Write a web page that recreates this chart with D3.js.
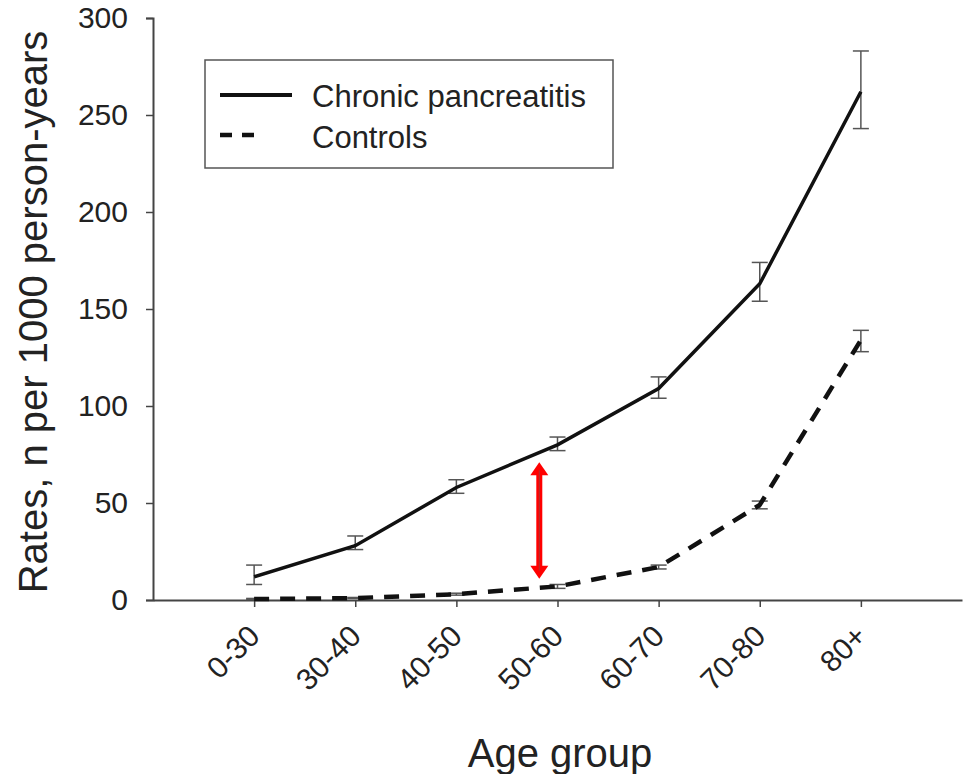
<!DOCTYPE html>
<html>
<head>
<meta charset="utf-8">
<script src="https://cdnjs.cloudflare.com/ajax/libs/d3/7.8.5/d3.min.js"></script>
<style>
  body { margin: 0; background: #fff; }
  text { font-family: "Liberation Sans", Arial, sans-serif; fill: #222; }
</style>
</head>
<body>
<div id="chart"></div>
<script>
var ageGroups = ["0-30", "30-40", "40-50", "50-60", "60-70", "70-80", "80+"];
var cpRates = [12, 28, 58, 80, 109, 163, 262];
var cpLow = [8, 26, 55, 77, 104, 154, 243];
var cpHigh = [18, 33, 62, 84, 115, 174, 283];
var ctrlRates = [0.5, 1, 3, 7, 17, 49, 134];
var ctrlLow = [0.3, 0.8, 2.5, 6, 16, 47, 128];
var ctrlHigh = [0.8, 1.3, 3.5, 8, 18, 51, 139];
var yTicks = [0, 50, 100, 150, 200, 250, 300];
// gap annotation: position along x (category index) and y range
var gapArrow = { at: 2.82, from: 11, to: 71 };

var width = 966, height = 774;
var svg = d3.select("#chart").append("svg")
  .attr("width", width)
  .attr("height", height);

var x = d3.scaleLinear().domain([-1, ageGroups.length]).range([153, 962]);
var y = d3.scaleLinear().domain([0, 300]).range([600, 18]);

// y axis
var yAxis = svg.append("g")
  .attr("transform", "translate(153,0)")
  .call(d3.axisLeft(y).tickValues(yTicks).tickSize(7).tickPadding(18));
yAxis.select(".domain").attr("stroke", "#444").attr("stroke-width", 2);
yAxis.selectAll(".tick line").attr("stroke", "#444").attr("stroke-width", 1.5);
yAxis.selectAll(".tick text")
  .style("font-size", "30px")
  .style("font-family", "Liberation Sans, Arial, sans-serif")
  .attr("fill", "#222");

// x axis
var xAxis = svg.append("g")
  .attr("transform", "translate(0,600)")
  .call(d3.axisBottom(x)
    .tickValues(d3.range(ageGroups.length))
    .tickFormat(function (i) { return ageGroups[i]; })
    .tickSize(7)
    .tickSizeOuter(0));
xAxis.select(".domain").attr("stroke", "#444").attr("stroke-width", 2);
xAxis.selectAll(".tick line").attr("stroke", "#444").attr("stroke-width", 1.5);
xAxis.selectAll(".tick text")
  .style("font-size", "30px")
  .style("font-family", "Liberation Sans, Arial, sans-serif")
  .attr("fill", "#222")
  .attr("text-anchor", "end")
  .attr("x", 0)
  .attr("y", 0)
  .attr("dy", 0)
  .attr("transform", "translate(7,38) rotate(-45)");

// axis titles
svg.append("text")
  .attr("transform", "translate(47,312) rotate(-90)")
  .attr("text-anchor", "middle")
  .style("font-size", "40px")
  .text("Rates, n per 1000 person-years");

svg.append("text")
  .attr("x", 560)
  .attr("y", 767)
  .attr("text-anchor", "middle")
  .style("font-size", "40px")
  .text("Age group");

// error bars
function errorBars(low, high) {
  var g = svg.append("g")
    .attr("stroke", "#555")
    .attr("stroke-width", 1.5);
  ageGroups.forEach(function (d, i) {
    g.append("line")
      .attr("x1", x(i)).attr("x2", x(i))
      .attr("y1", y(low[i])).attr("y2", y(high[i]));
    [low[i], high[i]].forEach(function (v) {
      g.append("line")
        .attr("x1", x(i) - 8).attr("x2", x(i) + 8)
        .attr("y1", y(v)).attr("y2", y(v));
    });
  });
}
errorBars(cpLow, cpHigh);
errorBars(ctrlLow, ctrlHigh);

var line = d3.line()
  .x(function (d, i) { return x(i); })
  .y(function (d) { return y(d); });

svg.append("path")
  .datum(ctrlRates)
  .attr("d", line)
  .attr("fill", "none")
  .attr("stroke", "#111")
  .attr("stroke-width", 4.5)
  .attr("stroke-dasharray", "15,11");

svg.append("path")
  .datum(cpRates)
  .attr("d", line)
  .attr("fill", "none")
  .attr("stroke", "#111")
  .attr("stroke-width", 3.5);

// red double arrow
var ax = x(gapArrow.at), ay1 = y(gapArrow.to), ay2 = y(gapArrow.from);
svg.append("line")
  .attr("x1", ax).attr("x2", ax)
  .attr("y1", ay1 + 10).attr("y2", ay2 - 10)
  .attr("stroke", "#f00")
  .attr("stroke-width", 6);
svg.append("path")
  .attr("d", "M" + ax + "," + ay1 + "L" + (ax - 9) + "," + (ay1 + 13) + "L" + (ax + 9) + "," + (ay1 + 13) + "Z")
  .attr("fill", "#f00");
svg.append("path")
  .attr("d", "M" + ax + "," + ay2 + "L" + (ax - 9) + "," + (ay2 - 13) + "L" + (ax + 9) + "," + (ay2 - 13) + "Z")
  .attr("fill", "#f00");
svg.append("line")
  .attr("x1", ax).attr("x2", ax)
  .attr("y1", ay1 + 8).attr("y2", ay2 - 8)
  .attr("stroke", "#a33")
  .attr("stroke-width", 1);

// legend
var legend = svg.append("g");
legend.append("rect")
  .attr("x", 205).attr("y", 60)
  .attr("width", 408).attr("height", 108)
  .attr("fill", "#fff")
  .attr("stroke", "#555")
  .attr("stroke-width", 1.5);
legend.append("line")
  .attr("x1", 220).attr("x2", 292)
  .attr("y1", 95).attr("y2", 95)
  .attr("stroke", "#111").attr("stroke-width", 4);
legend.append("line")
  .attr("x1", 220).attr("x2", 262)
  .attr("y1", 135).attr("y2", 135)
  .attr("stroke", "#111").attr("stroke-width", 4.5)
  .attr("stroke-dasharray", "12,10");
legend.append("text")
  .attr("x", 312).attr("y", 107)
  .style("font-size", "31px")
  .text("Chronic pancreatitis");
legend.append("text")
  .attr("x", 312).attr("y", 148)
  .style("font-size", "31px")
  .text("Controls");
</script>
</body>
</html>
